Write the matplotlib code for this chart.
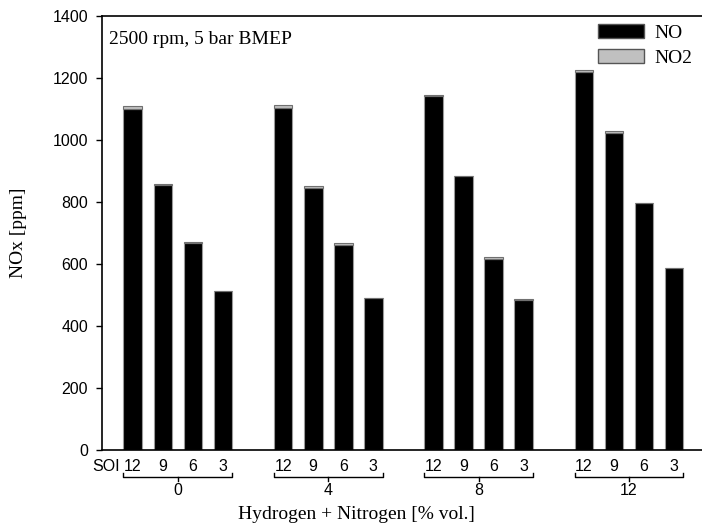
import matplotlib
matplotlib.use("Agg")
import matplotlib.pyplot as plt
from matplotlib.patches import Patch
import numpy as np

groups = ["0", "4", "8", "12"]
soi = ["12", "9", "6", "3"]
no_vals = [
    [1101, 855, 668, 512],
    [1104, 846, 663, 490],
    [1143, 883, 617, 485],
    [1218, 1024, 796, 586],
]
no2_vals = [
    [9, 2, 2, 2],
    [9, 6, 6, 2],
    [2, 2, 7, 2],
    [8, 6, 2, 2],
]
yticks = [0, 200, 400, 600, 800, 1000, 1200, 1400]

serif = ["Liberation Serif", "DejaVu Serif"]
narrow = ["Liberation Sans", "DejaVu Sans"]
tsize = 11.5
ssize = 14

fig = plt.figure(figsize=(7.02, 5.29), dpi=100)
ax = fig.add_axes([0.145, 0.149, 0.855, 0.821])

xs = []
for g in range(len(groups)):
    for i in range(len(soi)):
        xs.append(g * 5 + i)
xs = np.array(xs)
no_flat = np.array(no_vals).ravel()
no2_flat = np.array(no2_vals).ravel()

w = 0.62
ax.bar(xs, no_flat, width=w, color="black", edgecolor="#9a9a9a", linewidth=0.8, label="NO")
ax.bar(xs, no2_flat, bottom=no_flat, width=w, color="#c0c0c0", edgecolor="#707070", linewidth=0.8, label="NO2")

ax.set_xlim(-1.03, 18.93)
ax.set_ylim(0, 1400)
ax.set_yticks(yticks)
ax.set_yticklabels([str(v) for v in yticks], fontfamily=narrow, fontsize=tsize)
ax.tick_params(axis="y", direction="out", length=4, width=1, pad=6)
ax.set_xticks(xs)
ax.set_xticklabels(soi * len(groups), fontfamily=narrow, fontsize=tsize)
ax.tick_params(axis="x", length=0, pad=6)
ax.spines["right"].set_visible(False)
for s in ["left", "bottom", "top"]:
    ax.spines[s].set_linewidth(1.2)

trans = ax.get_xaxis_transform()
ax.text(-0.42, -0.02, "SOI", transform=trans, ha="right", va="top", fontfamily=narrow, fontsize=tsize)

for g, name in enumerate(groups):
    x0 = g * 5 - w / 2
    x1 = g * 5 + 3 + w / 2
    xc = (x0 + x1) / 2
    yb = -0.062
    ax.plot([x0, x0, x1, x1], [yb + 0.009, yb, yb, yb + 0.009], transform=trans,
            color="black", lw=1, clip_on=False)
    ax.plot([xc, xc], [yb, yb - 0.008], transform=trans, color="black", lw=1, clip_on=False)
    ax.text(xc, -0.075, name, transform=trans, ha="center", va="top",
            fontfamily=narrow, fontsize=tsize)

ax.set_xlabel("Hydrogen + Nitrogen [% vol.]", fontfamily=serif, fontsize=ssize, va="center")
ax.xaxis.set_label_coords(0.425, -0.147)
ax.set_ylabel("NOx [ppm]", fontfamily=serif, fontsize=ssize)
ax.yaxis.set_label_coords(-0.125, 0.5)

ax.text(0.012, 0.965, "2500 rpm, 5 bar BMEP", transform=ax.transAxes, ha="left", va="top",
        fontfamily=serif, fontsize=ssize)

handles = [Patch(facecolor="black", edgecolor="#555555", label="NO"),
           Patch(facecolor="#c0c0c0", edgecolor="#555555", label="NO2")]
ax.legend(handles=handles, loc="upper right", bbox_to_anchor=(0.99, 0.99), frameon=False,
          prop={"family": serif, "size": ssize}, handlelength=2.4, handleheight=0.7,
          handletextpad=0.5, labelspacing=0.4, borderaxespad=0.0, borderpad=0.2)

fig.savefig("out.png", dpi=100)
